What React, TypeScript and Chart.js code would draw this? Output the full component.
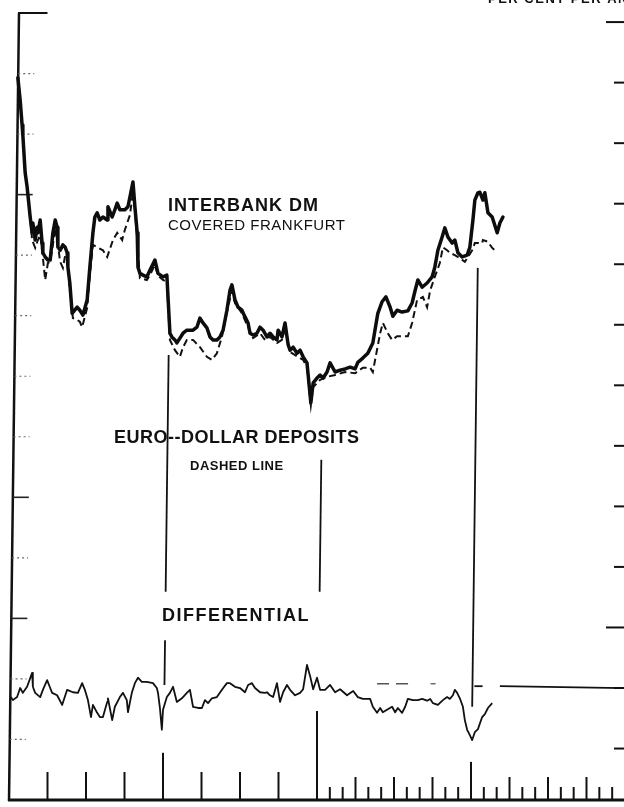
import React, { useEffect, useRef } from "react";
import { Chart, registerables } from "chart.js";

Chart.register(...registerables);

// x: quarters from the left edge (first 8 quarterly ticks, then monthly ticks); y: left-axis tick units
const interbankDM: [number, number][] = [
  [0.23, 11.93], [0.29, 11.56], [0.34, 11.15], [0.36, 10.98], [0.42, 10.36], [0.47, 10.13], [0.55, 9.63], [0.6, 9.37],
  [0.62, 9.53], [0.68, 9.25], [0.73, 9.46], [0.75, 9.37], [0.81, 9.58], [0.86, 9.2], [0.88, 9.04], [0.94, 8.97],
  [1.01, 8.92], [1.07, 8.92], [1.14, 9.37], [1.2, 9.58], [1.25, 9.46], [1.27, 9.13], [1.33, 9.08], [1.4, 9.17],
  [1.46, 9.13], [1.51, 9.04], [1.53, 8.8], [1.58, 8.54], [1.64, 8.04], [1.66, 8.04], [1.77, 8.14], [1.84, 8.09],
  [1.92, 8.01], [2.03, 8.26], [2.1, 8.8], [2.18, 9.37], [2.23, 9.63], [2.29, 9.7], [2.36, 9.58], [2.44, 9.63],
  [2.55, 9.58], [2.57, 9.8], [2.68, 9.63], [2.75, 9.75], [2.81, 9.86], [2.88, 9.75], [3.01, 9.75], [3.09, 9.8],
  [3.22, 10.21], [3.27, 9.8], [3.33, 9.37], [3.35, 8.8], [3.4, 8.7], [3.48, 8.67], [3.58, 8.64], [3.66, 8.75],
  [3.79, 8.92], [3.87, 8.7], [4.0, 8.64], [4.1, 8.67], [4.13, 8.31], [4.18, 7.71], [4.23, 7.65], [4.31, 7.6],
  [4.36, 7.55], [4.44, 7.63], [4.52, 7.71], [4.62, 7.76], [4.78, 7.76], [4.88, 7.81], [4.96, 7.96], [5.04, 7.88],
  [5.14, 7.8], [5.22, 7.65], [5.3, 7.6], [5.4, 7.6], [5.48, 7.65], [5.56, 7.76], [5.66, 8.09], [5.74, 8.42],
  [5.79, 8.51], [5.87, 8.26], [5.95, 8.14], [6.05, 8.09], [6.13, 7.98], [6.21, 7.88], [6.26, 7.71], [6.34, 7.68],
  [6.44, 7.71], [6.52, 7.81], [6.6, 7.76], [6.7, 7.65], [6.78, 7.71], [6.86, 7.65], [6.96, 7.6], [6.99, 7.76],
  [7.09, 7.65], [7.17, 7.88], [7.25, 7.52], [7.3, 7.43], [7.38, 7.48], [7.48, 7.38], [7.56, 7.43], [7.64, 7.32],
  [7.74, 7.22], [7.79, 6.89], [7.84, 6.56], [7.9, 6.89], [8.0, 6.97], [8.08, 7.02], [8.16, 6.97], [8.26, 7.07],
  [8.34, 7.22], [8.47, 7.07], [8.6, 7.1], [8.73, 7.12], [8.86, 7.15], [8.99, 7.12], [9.06, 7.23], [9.19, 7.3],
  [9.32, 7.38], [9.45, 7.55], [9.58, 8.04], [9.69, 8.23], [9.79, 8.31], [9.9, 8.14], [9.97, 7.99], [10.08, 8.09],
  [10.21, 8.06], [10.36, 8.08], [10.47, 8.21], [10.55, 8.42], [10.62, 8.59], [10.73, 8.47], [10.86, 8.54], [10.99, 8.64],
  [11.06, 8.8], [11.14, 9.08], [11.25, 9.3], [11.32, 9.45], [11.4, 9.3], [11.51, 9.2], [11.58, 9.25], [11.66, 9.04],
  [11.77, 8.97], [11.9, 9.0], [11.97, 9.13], [12.05, 9.58], [12.1, 9.91], [12.18, 10.03], [12.23, 10.04], [12.31, 9.91],
  [12.36, 10.03], [12.44, 9.7], [12.55, 9.63], [12.68, 9.37], [12.75, 9.53], [12.83, 9.63],
];

const euroDollar: [number, number][] = [
  [0.23, 11.93], [0.29, 11.56], [0.34, 11.15], [0.36, 10.98], [0.42, 10.36], [0.47, 10.13], [0.55, 9.63], [0.6, 9.25],
  [0.68, 9.12], [0.75, 9.25], [0.81, 9.33], [0.86, 9.08], [0.94, 8.59], [1.01, 8.87], [1.07, 8.89], [1.14, 9.17],
  [1.2, 9.45], [1.25, 9.25], [1.33, 8.89], [1.4, 8.79], [1.46, 9.0], [1.51, 8.95], [1.58, 8.42], [1.66, 7.96],
  [1.77, 7.93], [1.84, 7.9], [1.9, 7.81], [2.03, 8.13], [2.1, 8.67], [2.18, 9.17], [2.29, 9.13], [2.44, 9.08],
  [2.55, 8.97], [2.7, 9.25], [2.81, 9.37], [2.94, 9.25], [3.01, 9.42], [3.14, 9.66], [3.22, 10.04], [3.27, 9.75],
  [3.33, 9.25], [3.4, 8.62], [3.58, 8.59], [3.66, 8.67], [3.79, 8.84], [3.87, 8.66], [4.0, 8.59], [4.1, 8.56],
  [4.18, 7.6], [4.31, 7.43], [4.44, 7.32], [4.52, 7.48], [4.62, 7.6], [4.78, 7.6], [4.96, 7.48], [5.14, 7.32],
  [5.27, 7.27], [5.4, 7.38], [5.53, 7.65], [5.66, 8.06], [5.79, 8.42], [5.87, 8.21], [6.05, 8.04], [6.21, 7.81],
  [6.34, 7.63], [6.52, 7.71], [6.65, 7.6], [6.78, 7.65], [6.96, 7.55], [7.09, 7.6], [7.17, 7.8], [7.3, 7.4],
  [7.48, 7.33], [7.64, 7.27], [7.74, 7.15], [7.84, 6.52], [7.9, 6.82], [8.08, 6.94], [8.26, 6.99], [8.47, 7.02],
  [8.73, 7.07], [8.99, 7.05], [9.19, 7.14], [9.38, 7.14], [9.45, 7.07], [9.64, 7.71], [9.71, 7.88], [9.84, 7.71],
  [9.95, 7.6], [10.08, 7.66], [10.23, 7.66], [10.36, 7.66], [10.47, 7.88], [10.6, 8.26], [10.75, 8.31], [10.86, 8.14],
  [10.94, 8.42], [11.06, 8.64], [11.19, 8.87], [11.27, 9.13], [11.38, 9.08], [11.45, 9.04], [11.58, 9.0], [11.71, 8.95],
  [11.84, 8.89], [11.92, 8.97], [12.03, 9.08], [12.1, 9.2], [12.29, 9.2], [12.31, 9.25], [12.44, 9.22], [12.55, 9.12],
  [12.62, 9.08],
];

const differential: [number, number][] = [
  [0.05, 1.7], [0.1, 1.65], [0.21, 1.7], [0.29, 1.85], [0.36, 1.77], [0.47, 1.87], [0.6, 2.1], [0.62, 1.87],
  [0.68, 1.77], [0.81, 1.7], [0.88, 1.82], [0.99, 1.98], [1.07, 1.85], [1.12, 1.77], [1.25, 1.73], [1.38, 1.57],
  [1.51, 1.82], [1.66, 1.78], [1.79, 1.77], [1.9, 1.93], [1.97, 1.82], [2.05, 1.65], [2.13, 1.37], [2.18, 1.57],
  [2.29, 1.44], [2.36, 1.37], [2.44, 1.37], [2.55, 1.62], [2.57, 1.68], [2.68, 1.32], [2.75, 1.54], [2.88, 1.7],
  [2.96, 1.77], [3.06, 1.65], [3.09, 1.45], [3.19, 1.77], [3.27, 1.93], [3.35, 2.02], [3.45, 1.95], [3.58, 1.95],
  [3.74, 1.93], [3.84, 1.85], [3.87, 1.77], [3.92, 1.52], [3.97, 1.16], [4.0, 1.49], [4.1, 1.7], [4.18, 1.77],
  [4.26, 1.87], [4.36, 1.62], [4.49, 1.68], [4.62, 1.77], [4.7, 1.82], [4.78, 1.54], [4.91, 1.52], [5.01, 1.52],
  [5.09, 1.65], [5.17, 1.6], [5.27, 1.68], [5.4, 1.7], [5.53, 1.82], [5.66, 1.93], [5.74, 1.93], [5.87, 1.87],
  [6.0, 1.85], [6.13, 1.78], [6.21, 1.9], [6.31, 1.93], [6.39, 1.85], [6.52, 1.78], [6.65, 1.77], [6.7, 1.78],
  [6.78, 1.73], [6.86, 1.7], [6.96, 1.93], [7.04, 1.62], [7.12, 1.78], [7.22, 1.9], [7.3, 1.82], [7.43, 1.73],
  [7.56, 1.77], [7.64, 1.83], [7.74, 2.23], [7.82, 2.05], [7.9, 1.83], [8.0, 2.02], [8.08, 1.82], [8.21, 1.82],
  [8.34, 1.9], [8.47, 1.78], [8.6, 1.83], [8.78, 1.73], [8.94, 1.8], [9.06, 1.7], [9.19, 1.67], [9.38, 1.67],
  [9.45, 1.54], [9.56, 1.44], [9.64, 1.52], [9.71, 1.45], [9.84, 1.5], [9.95, 1.54], [10.03, 1.45], [10.1, 1.52],
  [10.21, 1.44], [10.29, 1.54], [10.36, 1.67], [10.49, 1.65], [10.62, 1.65], [10.73, 1.67], [10.86, 1.64], [10.94, 1.67],
  [11.01, 1.6], [11.14, 1.57], [11.27, 1.65], [11.38, 1.7], [11.45, 1.67], [11.53, 1.73], [11.58, 1.82], [11.64, 1.77],
  [11.71, 1.68], [11.79, 1.54], [11.84, 1.32], [11.9, 1.16], [11.97, 1.07], [12.03, 0.99], [12.1, 1.12], [12.18, 1.17],
  [12.29, 1.37], [12.36, 1.42], [12.44, 1.52], [12.55, 1.6],
];

const leftTickValues = [1, 2, 3, 4, 5, 6, 7, 8, 9, 10, 11, 12];
const leftSolidTicks = [3, 5, 10];
const rightTickValues = [1, 2, 3, 4, 5, 6, 7, 8, 9, 10, 11, 12, 13];
const rightLongTicks = [3, 13];
const quarterTicks = [1, 2, 3, 5, 6, 7, 9, 10, 11, 13, 14, 15];
const monthStart = 8;
const monthEnd = 16;
// reference line pieces: [x, yTop, yBottom]
const markerSegments: [number, number, number][] = [
  [4, 7.35, 3.44],
  [4, 2.64, 1.9],
  [8, 5.62, 3.44],
  [12, 8.79, 1.54],
];
// taller bottom ticks at the marker positions: [x, tickTopY]
const markerTicks: [number, number][] = [
  [4, 0.78],
  [8, 1.47],
  [12, 0.63],
];
const zeroLineY = 1.88;

const X_MAX = 15.974;
const Y_MAX = 13;
const TILT = 0.0127;
const FONT = '"Liberation Sans", Arial, sans-serif';

const framePlugin = {
  id: "frame",
  beforeDatasetsDraw(chart: any) {
    const { ctx, scales } = chart;
    const xs = scales.x, ys = scales.y, y2 = scales.y2;
    const X = (v: number) => xs.getPixelForValue(v);
    const Y = (v: number) => ys.getPixelForValue(v);
    const base = Y(0);
    const tilt = (py: number) => (base - py) * TILT;
    const seg = (x1: number, y1: number, x2: number, y2p: number, w: number, color = "#111", dash: number[] = []) => {
      ctx.beginPath();
      ctx.setLineDash(dash);
      ctx.strokeStyle = color;
      ctx.lineWidth = w;
      ctx.moveTo(x1, y1);
      ctx.lineTo(x2, y2p);
      ctx.stroke();
    };
    ctx.save();
    ctx.lineCap = "butt";

    // left axis (slightly tilted like the scan)
    const axTop = Y(Y_MAX);
    seg(X(0) + tilt(axTop), axTop, X(0), base + 1, 2.5);
    // top border piece
    seg(X(0) + tilt(axTop) - 1, axTop, X(1), axTop, 2);
    // bottom axis
    seg(X(0) - 1, base, chart.width, base, 3);

    // left ticks
    leftTickValues.forEach((v) => {
      const py = Y(v);
      const x0 = X(0) + tilt(py);
      const solid = leftSolidTicks.includes(v);
      seg(x0, py, x0 + 16, py, solid ? 1.6 : 1.2, solid ? "#222" : "#666", solid ? [] : [2, 3]);
    });

    // right ticks
    rightTickValues.forEach((v) => {
      const py = y2.getPixelForValue(v);
      const len = rightLongTicks.includes(v) ? 18 : 10;
      seg(chart.width - len, py, chart.width, py, 2);
    });

    // bottom ticks
    quarterTicks.forEach((v) => {
      const h = v < 8 ? 28 : 23;
      seg(X(v), base, X(v), base - h, 2);
    });
    for (let m = monthStart * 3 + 1; m < monthEnd * 3; m++) {
      if (m % 3 === 0) continue;
      const v = m / 3;
      seg(X(v), base, X(v), base - 13, 2);
    }

    // vertical marker lines
    markerSegments.forEach(([v, top, bottom]) => {
      const pt = Y(top), pb = Y(bottom);
      seg(X(v) + tilt(pt), pt, X(v) + tilt(pb), pb, 1.8);
    });
    markerTicks.forEach(([v, tickTop]) => {
      seg(X(v), Y(tickTop), X(v), base, 2);
    });

    // differential zero line
    const zy = Y(zeroLineY);
    seg(X(12.05) + tilt(zy), zy, X(12.3), zy, 1.8);
    seg(X(12.75), zy, chart.width, zy + 2, 1.8);
    seg(X(9.56), Y(1.92), X(10.49), Y(1.92), 1.3, "#555", [12, 7]);
    seg(X(10.95), Y(1.92), X(11.08), Y(1.92), 1.3, "#555");

    // annotation texts
    ctx.setLineDash([]);
    ctx.fillStyle = "#111";
    ctx.textBaseline = "alphabetic";
    const text = (t: string, x: number, y: number, font: string, spacing: number) => {
      ctx.font = font;
      (ctx as any).letterSpacing = spacing + "px";
      ctx.fillText(t, x, y);
    };
    text("PER CENT PER ANNUM", 488, 3, `bold 13px ${FONT}`, 1.5);
    text("INTERBANK DM", 168, 211, `bold 18px ${FONT}`, 1);
    text("COVERED FRANKFURT", 168, 230, `15px ${FONT}`, 0.5);
    text("EURO--DOLLAR DEPOSITS", 114, 443, `bold 18px ${FONT}`, 0.5);
    text("DASHED LINE", 190, 470, `bold 13px ${FONT}`, 0.5);
    text("DIFFERENTIAL", 162, 621, `bold 18px ${FONT}`, 1.5);
    (ctx as any).letterSpacing = "0px";
    ctx.restore();
  },
};

const toPoints = (arr: [number, number][]) => arr.map(([x, y]) => ({ x, y }));

export default function App() {
  const ref = useRef<HTMLCanvasElement | null>(null);
  useEffect(() => {
    if (!ref.current) return;
    const chart = new Chart(ref.current, {
      type: "line",
      data: {
        datasets: [
          {
            label: "Interbank DM covered Frankfurt",
            data: toPoints(interbankDM),
            borderColor: "#0d0d0d",
            borderWidth: 3.5,
            pointRadius: 0,
            tension: 0,
            fill: false,
            borderJoinStyle: "round",
            borderCapStyle: "round",
          },
          {
            label: "Euro-dollar deposits",
            data: toPoints(euroDollar),
            borderColor: "#111",
            borderWidth: 2,
            borderDash: [7, 4],
            pointRadius: 0,
            tension: 0,
            fill: false,
          },
          {
            label: "Differential",
            data: toPoints(differential),
            borderColor: "#111",
            borderWidth: 1.8,
            pointRadius: 0,
            tension: 0,
            fill: false,
            borderJoinStyle: "round",
          },
        ],
      },
      options: {
        responsive: false,
        animation: false,
        events: [],
        layout: { padding: { left: 9, right: 0, top: 13, bottom: 7 } },
        scales: {
          x: { type: "linear", min: 0, max: X_MAX, display: false },
          y: { type: "linear", min: 0, max: Y_MAX, display: false },
          y2: { type: "linear", position: "right", min: 0.15, max: 13.15, display: false },
        },
        plugins: { legend: { display: false }, tooltip: { enabled: false } },
      },
      plugins: [framePlugin],
    });
    return () => chart.destroy();
  }, []);
  return (
    <div style={{ position: "fixed", left: 0, top: 0, width: 624, height: 807, background: "#fff" }}>
      <canvas ref={ref} width={624} height={807} style={{ display: "block", width: 624, height: 807 }} />
    </div>
  );
}
